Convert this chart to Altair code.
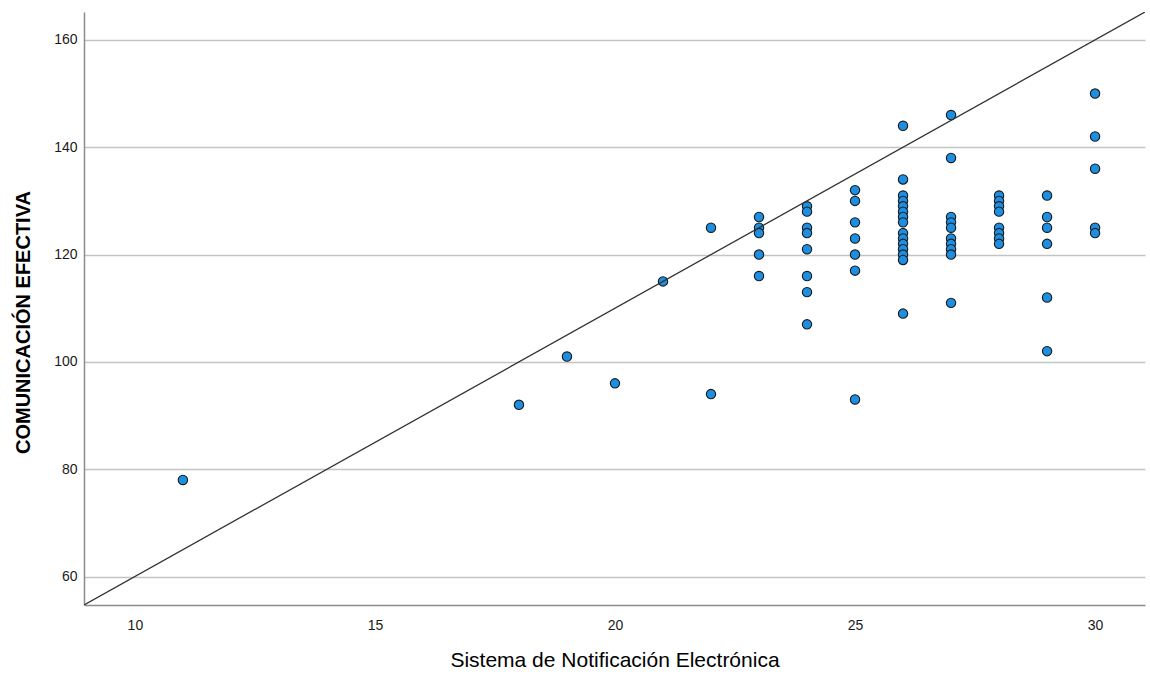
import altair as alt
import pandas as pd

# Scores: electronic notification system (x) vs. effective communication (y)
sne = (
    [11, 18, 19, 20, 21]
    + [22] * 2
    + [23] * 5
    + [24] * 8
    + [25] * 7
    + [26] * 15
    + [27] * 10
    + [28] * 8
    + [29] * 6
    + [30] * 5
)
ce = (
    [78, 92, 101, 96, 115]
    + [125, 94]
    + [127, 125, 124, 120, 116]
    + [129, 128, 125, 124, 121, 116, 113, 107]
    + [132, 130, 126, 123, 120, 117, 93]
    + [144, 134, 131, 130, 129, 128, 127, 126, 124, 123, 122, 121, 120, 119, 109]
    + [146, 138, 127, 126, 125, 123, 122, 121, 120, 111]
    + [131, 130, 129, 128, 125, 124, 123, 122]
    + [131, 127, 125, 122, 112, 102]
    + [150, 142, 136, 125, 124]
)

x_domain = [8.94, 31.04]
y_domain = [54.7, 165.2]
x_ticks = [10, 15, 20, 25, 30]
y_ticks = [60, 80, 100, 120, 140, 160]

# Reference line y = 5x + 10 across the x range
ref_slope, ref_intercept = 5, 10

points = pd.DataFrame({"x": sne, "y": ce})
ref = pd.DataFrame({"x": x_domain, "y": [ref_slope * v + ref_intercept for v in x_domain]})

font = "Liberation Sans"

x_enc = alt.X(
    "x:Q",
    scale=alt.Scale(domain=x_domain, nice=False, zero=False),
    axis=alt.Axis(
        values=x_ticks,
        title="Sistema de Notificación Electrónica",
        grid=False,
        ticks=False,
        domainColor="#8c8c8c",
        domainWidth=1.5,
        labelFont=font,
        labelFontSize=14,
        labelColor="#1a1a1a",
        labelPadding=13,
        titleFont=font,
        titleFontSize=21,
        titleFontWeight="normal",
        titleColor="#000000",
        titlePadding=17,
    ),
)
y_enc = alt.Y(
    "y:Q",
    scale=alt.Scale(domain=y_domain, nice=False, zero=False),
    axis=alt.Axis(
        values=y_ticks,
        title="COMUNICACIÓN EFECTIVA",
        grid=True,
        gridColor="#c4c4c4",
        gridWidth=1.5,
        ticks=False,
        domainColor="#8c8c8c",
        domainWidth=1.5,
        labelFont=font,
        labelFontSize=14,
        labelColor="#1a1a1a",
        labelPadding=7,
        titleFont=font,
        titleFontSize=20,
        titleFontWeight="bold",
        titleColor="#000000",
        titlePadding=20,
        titleY=310,
    ),
)

scatter = alt.Chart(points).mark_circle(
    size=88, color="#1c8fe3", opacity=1, stroke="#1a1a1a", strokeWidth=1.1
).encode(x=x_enc, y=y_enc)

line = alt.Chart(ref).mark_line(color="#333333", strokeWidth=1.3, clip=True).encode(
    x=alt.X("x:Q", scale=alt.Scale(domain=x_domain, nice=False, zero=False)),
    y=alt.Y("y:Q", scale=alt.Scale(domain=y_domain, nice=False, zero=False)),
)

chart = (
    alt.layer(scatter, line)
    .properties(
        width=1061,
        height=593,
        autosize=alt.AutoSizeParams(type="none"),
        padding={"left": 84, "top": 12, "right": 5, "bottom": 71},
        background="white",
    )
    .configure_view(stroke=None)
)

chart.save("out.html", embed_options={"renderer": "svg", "actions": False})
